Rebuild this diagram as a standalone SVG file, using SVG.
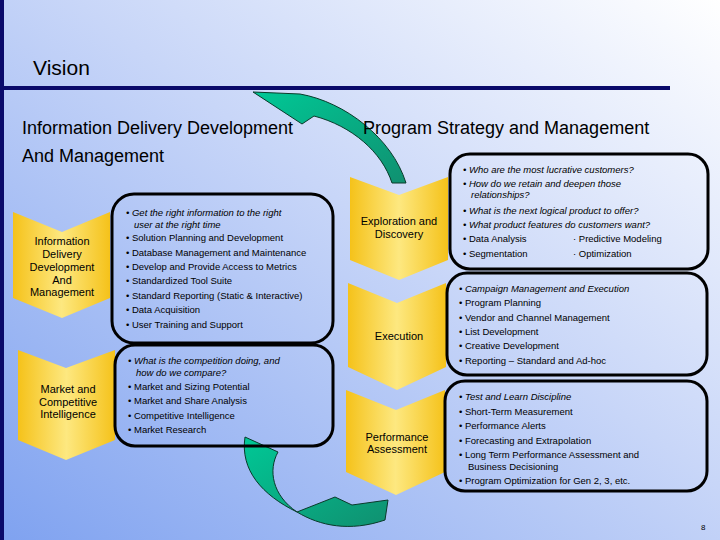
<svg xmlns="http://www.w3.org/2000/svg" width="720" height="540" viewBox="0 0 720 540">
<defs>
<linearGradient id="bg" x1="0" y1="1" x2="1" y2="0">
<stop offset="0" stop-color="#7fa2f0"/><stop offset="0.55" stop-color="#c8d6f8"/><stop offset="1" stop-color="#ffffff"/>
</linearGradient>
<linearGradient id="chev" x1="0" y1="0" x2="1" y2="0">
<stop offset="0" stop-color="#f5c21a"/><stop offset="0.5" stop-color="#fde880"/><stop offset="1" stop-color="#f5c21a"/>
</linearGradient>
<linearGradient id="green" x1="0" y1="0" x2="1" y2="1">
<stop offset="0" stop-color="#00c896"/><stop offset="1" stop-color="#109070"/>
</linearGradient>
<style>
text{font-family:"Liberation Sans",Arial,sans-serif;fill:#000}
.h{font-size:18px}
.c{font-size:11px;text-anchor:middle}
.t{font-size:9.5px}
.i{font-style:italic}
.box{fill:none;stroke:#000;stroke-width:3}
.chev{fill:url(#chev)}
.arr{fill:url(#green);stroke:#0a3a2a;stroke-width:1}
</style>
</defs>
<rect width="720" height="540" fill="url(#bg)"/>
<rect x="0" y="0" width="4" height="540" fill="#0a0a6a"/>
<rect x="0" y="86" width="670" height="4" fill="#0a0a6a"/>
<text x="33" y="75" style="font-size:21px">Vision</text>
<text class="h" x="22" y="134">Information Delivery Development</text>
<text class="h" x="22" y="162">And Management</text>

<g id="connectors">
<path class="arr" d="M253,92 L300,94 C345,102 392,138 406,183 L392,183 C382,152 352,126 314,116 L302,124 Z"/>
<path class="arr" d="M245,437 L278,452 C268,470 272,495 297,512 L335,497 L352,505 L388,500 L385,520 C350,532 320,526 297,512 C262,495 240,470 245,437 Z"/>
</g>
<text class="h" x="363" y="134">Program Strategy and Management</text>

<g id="n-info">
<polygon class="chev" points="13,212 62,232 110,212 110,298 62,318 13,298"/>
<text class="c" x="62" y="245">Information</text><text class="c" x="62" y="258">Delivery</text><text class="c" x="62" y="271">Development</text><text class="c" x="62" y="284">And</text><text class="c" x="62" y="296">Management</text>
</g>
<g id="n-market">
<polygon class="chev" points="18,350 66,368 115,350 115,440 66,460 18,440"/>
<text class="c" x="68" y="393">Market and</text><text class="c" x="68" y="406">Competitive</text><text class="c" x="68" y="418">Intelligence</text>
</g>
<g id="n-explore">
<polygon class="chev" points="350,177 399,195 448,177 448,260 399,280 350,260"/>
<text class="c" x="399" y="225">Exploration and</text><text class="c" x="399" y="238">Discovery</text>
</g>
<g id="n-exec">
<polygon class="chev" points="348,283 397,303 446,283 446,367 397,390 348,367"/>
<text class="c" x="399" y="340">Execution</text>
</g>
<g id="n-perf">
<polygon class="chev" points="346,390 396,410 445,390 445,472 396,495 346,472"/>
<text class="c" x="397" y="441">Performance</text><text class="c" x="397" y="453">Assessment</text>
</g>

<g id="b-info">
<rect class="box" x="112" y="194" width="221" height="149" rx="22"/>
<text class="t i" x="126" y="216">• Get the right information to the right</text>
<text class="t i" x="134" y="228">user at the right time</text>
<text class="t" x="126" y="241">•  Solution Planning and Development</text>
<text class="t" x="126" y="256">•  Database Management and Maintenance</text>
<text class="t" x="126" y="270">•  Develop and Provide Access to Metrics</text>
<text class="t" x="126" y="284">•  Standardized Tool Suite</text>
<text class="t" x="126" y="299">•  Standard Reporting (Static &amp; Interactive)</text>
<text class="t" x="126" y="313">•  Data Acquisition</text>
<text class="t" x="126" y="328">•  User Training and Support</text>
</g>
<g id="b-market">
<rect class="box" x="115" y="345" width="218" height="101" rx="20"/>
<text class="t i" x="128" y="364">• What is the competition doing, and</text>
<text class="t i" x="136" y="376">how do we compare?</text>
<text class="t" x="128" y="390">•  Market and Sizing Potential</text>
<text class="t" x="128" y="404">•  Market and Share Analysis</text>
<text class="t" x="128" y="419">•  Competitive Intelligence</text>
<text class="t" x="128" y="433">•  Market Research</text>
</g>
<g id="b-explore">
<rect class="box" x="450" y="154" width="258" height="115" rx="20"/>
<text class="t i" x="463" y="173">•  Who are the most lucrative customers?</text>
<text class="t i" x="463" y="187">•  How do we retain and deepen those</text>
<text class="t i" x="471" y="198">relationships?</text>
<text class="t i" x="463" y="214">•  What is the next logical product to offer?</text>
<text class="t i" x="463" y="228">•  What product features do customers want?</text>
<text class="t" x="463" y="242">•  Data Analysis</text>
<text class="t" x="573" y="242">· Predictive Modeling</text>
<text class="t" x="463" y="257">•  Segmentation</text>
<text class="t" x="573" y="257">· Optimization</text>
</g>
<g id="b-exec">
<rect class="box" x="447" y="273" width="260" height="102" rx="20"/>
<text class="t i" x="459" y="292">•  Campaign Management and Execution</text>
<text class="t" x="459" y="306">•  Program Planning</text>
<text class="t" x="459" y="321">•  Vendor and Channel Management</text>
<text class="t" x="459" y="335">•  List Development</text>
<text class="t" x="459" y="349">•  Creative Development</text>
<text class="t" x="459" y="364">•  Reporting – Standard and Ad-hoc</text>
</g>
<g id="b-perf">
<rect class="box" x="445" y="381" width="262" height="110" rx="20"/>
<text class="t i" x="459" y="400">•  Test and Learn Discipline</text>
<text class="t" x="459" y="415">•  Short-Term Measurement</text>
<text class="t" x="459" y="429">•  Performance Alerts</text>
<text class="t" x="459" y="444">•  Forecasting and Extrapolation</text>
<text class="t" x="459" y="458">•  Long Term Performance Assessment and</text>
<text class="t" x="468" y="470">Business Decisioning</text>
<text class="t" x="459" y="484">•  Program Optimization for Gen 2, 3, etc.</text>
</g>
<text x="701" y="530" style="font-size:8px">8</text>
</svg>
